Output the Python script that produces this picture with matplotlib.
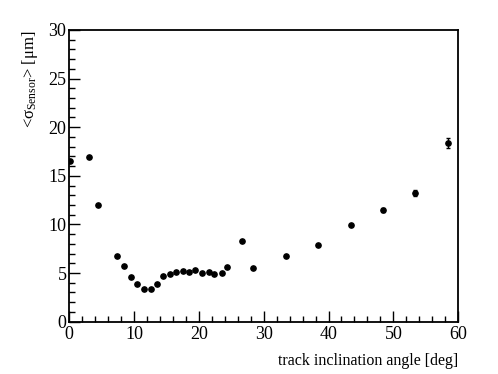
import matplotlib
matplotlib.use('Agg')
import matplotlib.pyplot as plt
from matplotlib.ticker import MultipleLocator

# data
angle = [0.05, 3.0, 4.5, 7.4, 8.4, 9.5, 10.4, 11.5, 12.6, 13.5, 14.4, 15.5,
         16.5, 17.5, 18.5, 19.4, 20.5, 21.5, 22.4, 23.5, 24.4, 26.7, 28.4,
         33.4, 38.4, 43.4, 48.4, 53.4, 58.4]
sigma = [16.5, 16.9, 12.0, 6.8, 5.7, 4.6, 3.85, 3.35, 3.35, 3.9, 4.7, 4.9,
         5.15, 5.25, 5.1, 5.3, 5.0, 5.15, 4.9, 5.0, 5.6, 8.3, 5.5,
         6.7, 7.9, 9.9, 11.5, 13.2, 18.4]
sigma_err = [0.05, 0.05, 0.05, 0.05, 0.05, 0.05, 0.05, 0.05, 0.05, 0.05, 0.05, 0.05,
             0.05, 0.05, 0.05, 0.05, 0.05, 0.05, 0.05, 0.05, 0.05, 0.05, 0.05,
             0.1, 0.1, 0.1, 0.2, 0.3, 0.5]

plt.rcParams['font.family'] = ['Liberation Serif', 'DejaVu Serif']
plt.rcParams['mathtext.fontset'] = 'custom'
plt.rcParams['mathtext.rm'] = 'Liberation Serif'
plt.rcParams['mathtext.it'] = 'Liberation Serif'

fig = plt.figure(figsize=(4.98, 3.74), dpi=100)
ax = fig.add_axes([0.139, 0.140, 0.781, 0.780])

ax.errorbar(angle, sigma, yerr=sigma_err, fmt='o', color='black',
            markersize=3.8, elinewidth=1, capsize=1.5, capthick=1)

ax.set_xlim(0, 60)
ax.set_ylim(0, 30)
ax.xaxis.set_major_locator(MultipleLocator(10))
ax.xaxis.set_minor_locator(MultipleLocator(2))
ax.yaxis.set_major_locator(MultipleLocator(5))
ax.yaxis.set_minor_locator(MultipleLocator(1))
ax.tick_params(which='both', direction='in', top=False, right=False,
               labelsize=13, width=1)
ax.tick_params(which='major', length=8)
ax.tick_params(which='minor', length=4.5)
ax.tick_params(axis='x', pad=3)
ax.tick_params(axis='y', pad=2)
for s in ax.spines.values():
    s.set_linewidth(1.3)

ax.set_xlabel('track inclination angle [deg]', fontsize=11.5, loc='right',
              labelpad=7)
ax.set_ylabel(r'<$\sigma_{\rm Sensor}$> [$\mu$m]', fontsize=12, loc='top',
              labelpad=6)

fig.savefig('out.png', dpi=100)
